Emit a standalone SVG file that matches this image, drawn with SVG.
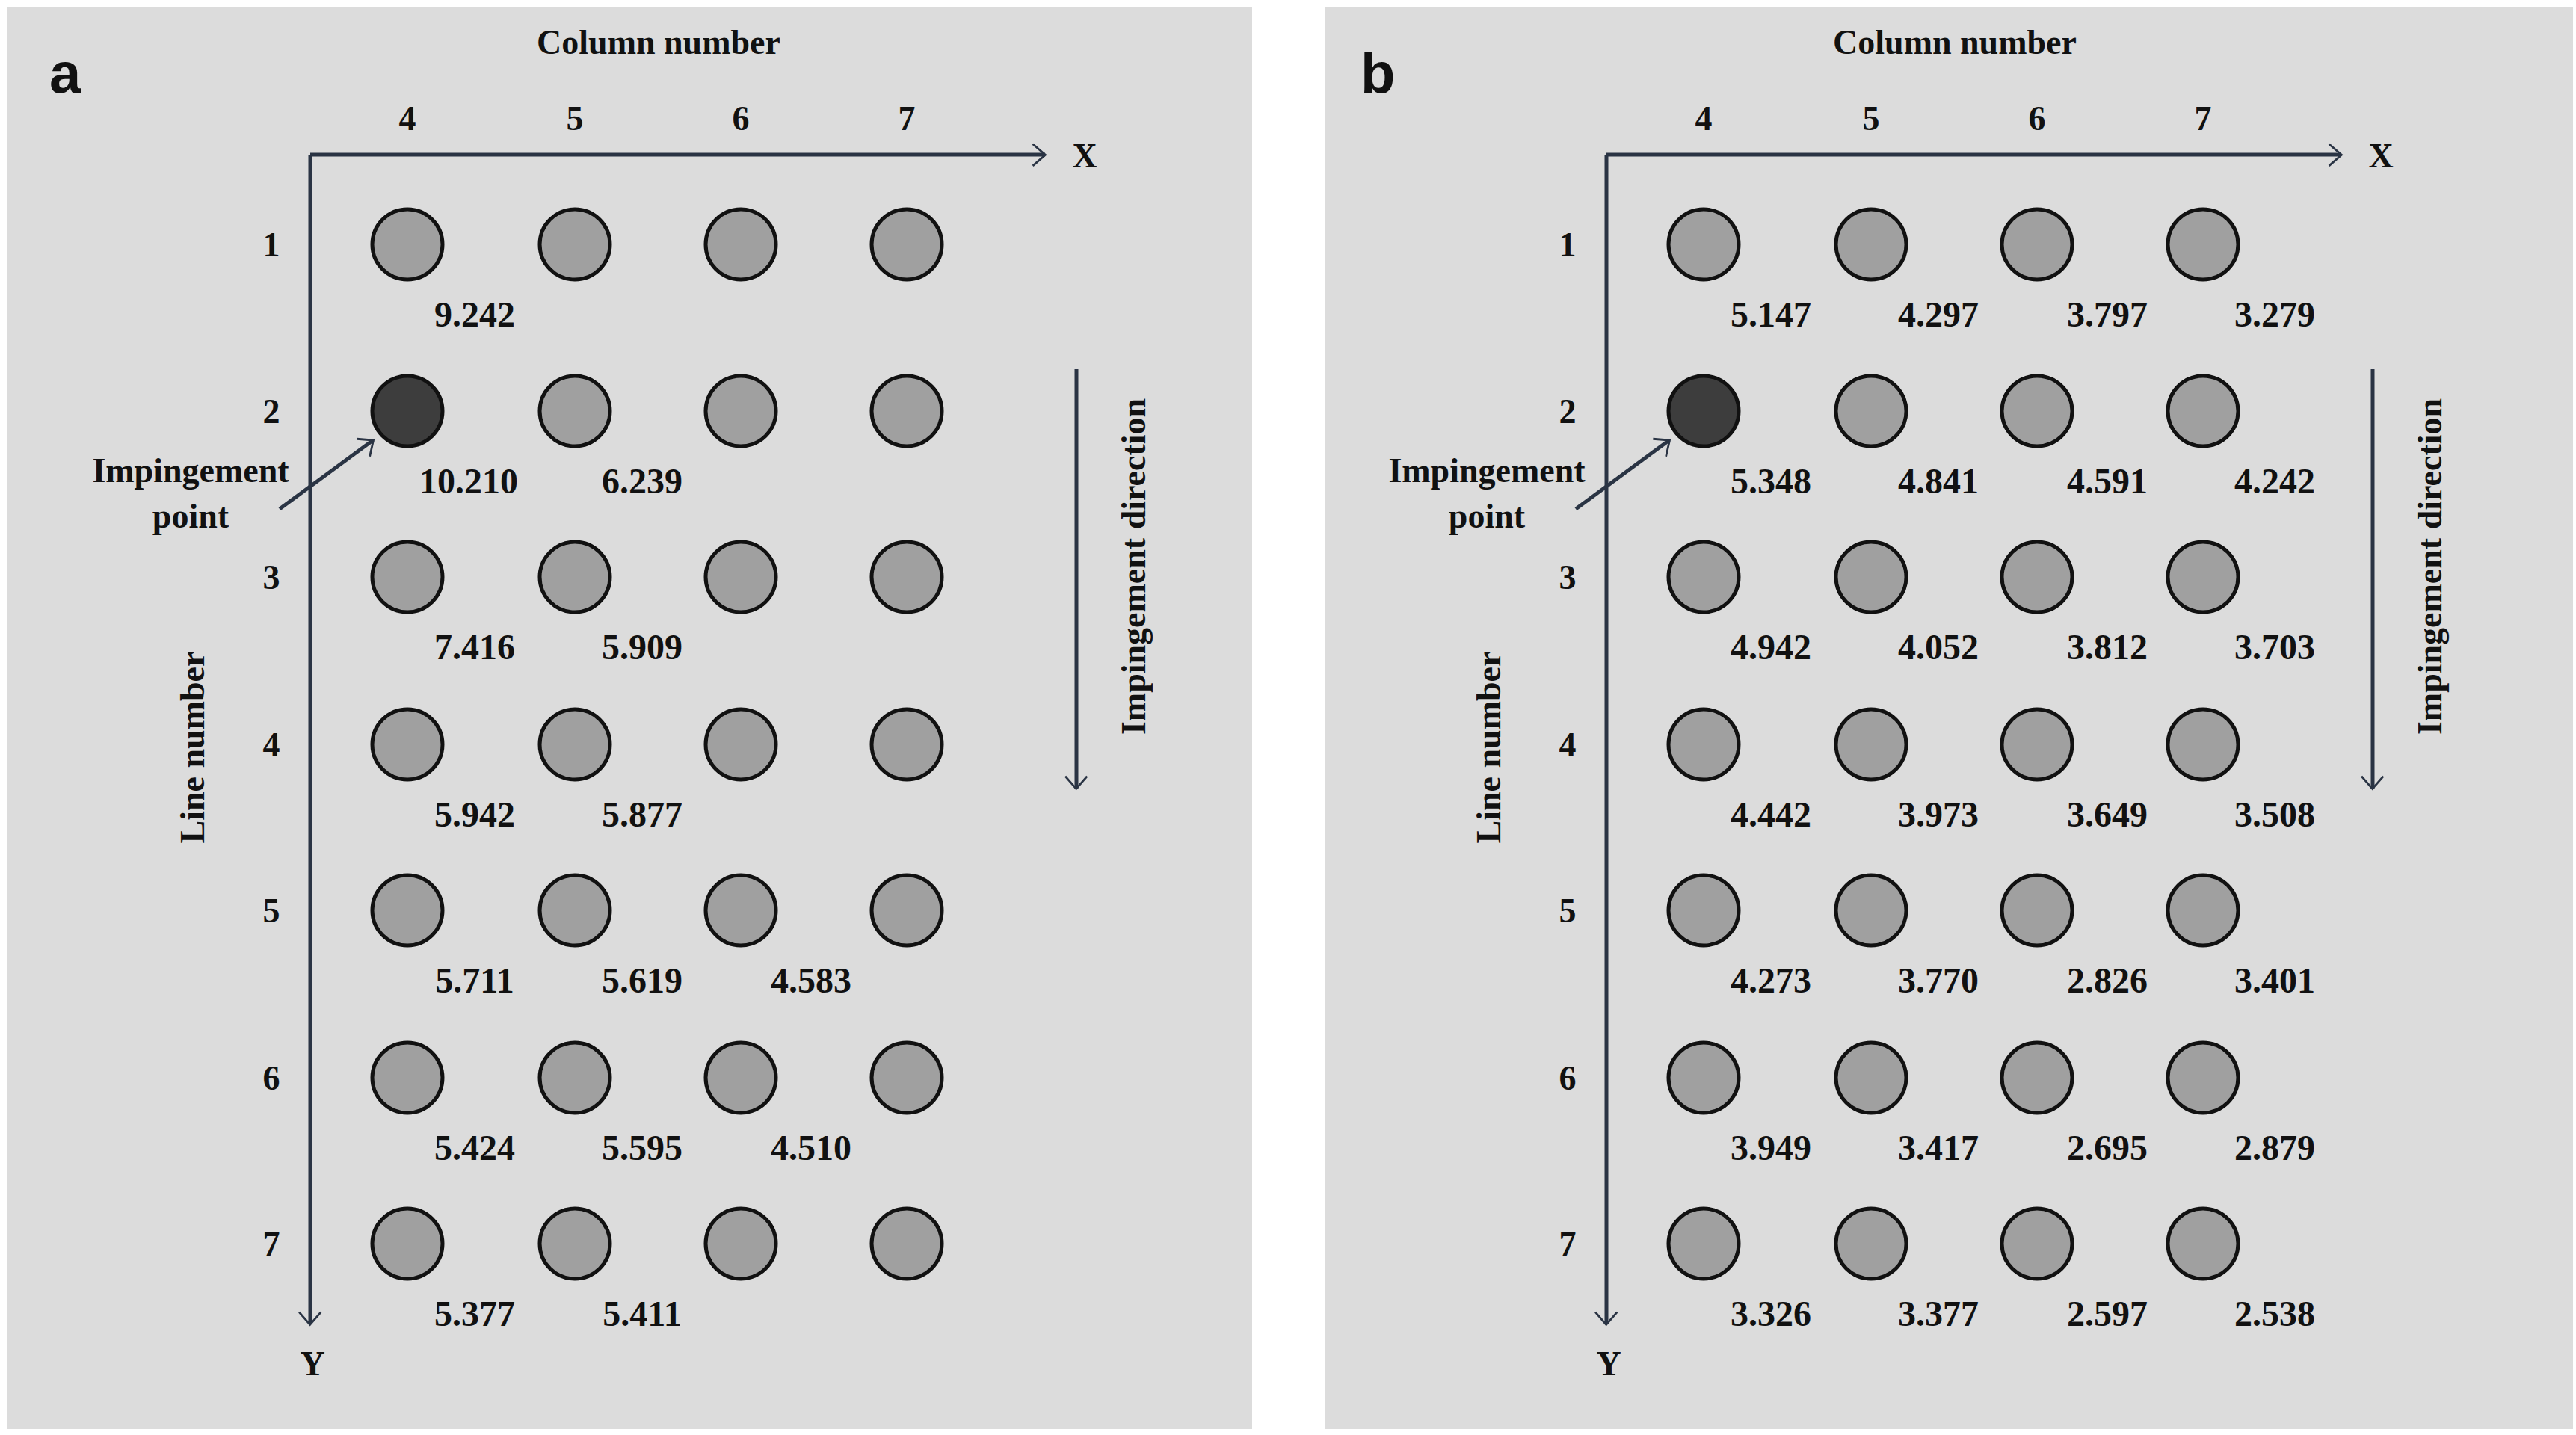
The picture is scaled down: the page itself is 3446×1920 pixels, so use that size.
<svg xmlns="http://www.w3.org/2000/svg" width="3446" height="1920" viewBox="0 0 3446 1920">
<defs>
<style>
.bg{fill:#dcdcdc}
.t{font-family:"Liberation Serif",serif;font-weight:bold;font-size:46px;fill:#111;text-anchor:middle}
.v{font-family:"Liberation Serif",serif;font-weight:bold;font-size:48px;fill:#111;text-anchor:middle}
.lab{font-family:"Liberation Sans",sans-serif;font-weight:bold;font-size:76px;fill:#111}
.ax{stroke:#2a3444;stroke-width:5;fill:none}
.c{fill:#a0a0a0;stroke:#111;stroke-width:5}
.d{fill:#3d3d3d;stroke:#111;stroke-width:5}
</style>
<marker id="ah" viewBox="0 0 10 10" refX="9" refY="5" markerWidth="7" markerHeight="7" orient="auto" markerUnits="userSpaceOnUse" style="overflow:visible">
<path d="M-6,-8 L9,5 L-6,18" transform="scale(1.6) translate(-3,-1.6)" fill="none" stroke="#2a3444" stroke-width="2.5"/>
</marker>
<g id="panel">
<g id="axes" class="ax">
<line x1="415" y1="207" x2="1398" y2="207" marker-end="url(#ah)"/>
<line x1="415" y1="207" x2="415" y2="1772" marker-end="url(#ah)"/>
<line x1="1440" y1="494" x2="1440" y2="1055" marker-end="url(#ah)"/>
<line x1="374" y1="681" x2="499" y2="589" marker-end="url(#ah)"/>
</g>
<text class="t" x="881" y="72">Column number</text>
<text class="t" x="545" y="174">4</text><text class="t" x="769" y="174">5</text><text class="t" x="991" y="174">6</text><text class="t" x="1213" y="174">7</text>
<text class="t" x="1451" y="224" font-size="54">X</text>
<text class="t" x="418" y="1840" font-size="54">Y</text>
<text class="t" x="363" y="343">1</text><text class="t" x="363" y="566">2</text><text class="t" x="363" y="788">3</text><text class="t" x="363" y="1012">4</text><text class="t" x="363" y="1234">5</text><text class="t" x="363" y="1458">6</text><text class="t" x="363" y="1680">7</text>
<text class="t" x="255" y="645">Impingement</text>
<text class="t" x="255" y="706">point</text>
<text class="t" transform="translate(273,1000) rotate(-90)">Line number</text>
<text class="t" transform="translate(1532,758) rotate(-90)">Impingement direction</text>
<g id="circles">
<circle class="c" cx="545" cy="327" r="47"/><circle class="c" cx="769" cy="327" r="47"/><circle class="c" cx="991" cy="327" r="47"/><circle class="c" cx="1213" cy="327" r="47"/>
<circle class="d" cx="545" cy="550" r="47"/><circle class="c" cx="769" cy="550" r="47"/><circle class="c" cx="991" cy="550" r="47"/><circle class="c" cx="1213" cy="550" r="47"/>
<circle class="c" cx="545" cy="772" r="47"/><circle class="c" cx="769" cy="772" r="47"/><circle class="c" cx="991" cy="772" r="47"/><circle class="c" cx="1213" cy="772" r="47"/>
<circle class="c" cx="545" cy="996" r="47"/><circle class="c" cx="769" cy="996" r="47"/><circle class="c" cx="991" cy="996" r="47"/><circle class="c" cx="1213" cy="996" r="47"/>
<circle class="c" cx="545" cy="1218" r="47"/><circle class="c" cx="769" cy="1218" r="47"/><circle class="c" cx="991" cy="1218" r="47"/><circle class="c" cx="1213" cy="1218" r="47"/>
<circle class="c" cx="545" cy="1442" r="47"/><circle class="c" cx="769" cy="1442" r="47"/><circle class="c" cx="991" cy="1442" r="47"/><circle class="c" cx="1213" cy="1442" r="47"/>
<circle class="c" cx="545" cy="1664" r="47"/><circle class="c" cx="769" cy="1664" r="47"/><circle class="c" cx="991" cy="1664" r="47"/><circle class="c" cx="1213" cy="1664" r="47"/>
</g>
</g>
</defs>
<rect x="0" y="0" width="3446" height="1920" fill="#fff"/>
<g id="panel-a">
<rect class="bg" x="9" y="9" width="1666" height="1903"/>
<text class="lab" x="66" y="124">a</text>
<use href="#panel"/>
<g id="values-a">
<text class="v" x="635" y="437">9.242</text>
<text class="v" x="627" y="660">10.210</text><text class="v" x="859" y="660">6.239</text>
<text class="v" x="635" y="882">7.416</text><text class="v" x="859" y="882">5.909</text>
<text class="v" x="635" y="1106">5.942</text><text class="v" x="859" y="1106">5.877</text>
<text class="v" x="635" y="1328">5.711</text><text class="v" x="859" y="1328">5.619</text><text class="v" x="1085" y="1328">4.583</text>
<text class="v" x="635" y="1552">5.424</text><text class="v" x="859" y="1552">5.595</text><text class="v" x="1085" y="1552">4.510</text>
<text class="v" x="635" y="1774">5.377</text><text class="v" x="859" y="1774">5.411</text>
</g>
</g>
<g id="panel-b">
<rect class="bg" x="1772" y="9" width="1670" height="1903"/>
<text class="lab" x="1820" y="124">b</text>
<use href="#panel" x="1734"/>
<g id="values-b" transform="translate(1734,0)">
<text class="v" x="635" y="437">5.147</text><text class="v" x="859" y="437">4.297</text><text class="v" x="1085" y="437">3.797</text><text class="v" x="1309" y="437">3.279</text>
<text class="v" x="635" y="660">5.348</text><text class="v" x="859" y="660">4.841</text><text class="v" x="1085" y="660">4.591</text><text class="v" x="1309" y="660">4.242</text>
<text class="v" x="635" y="882">4.942</text><text class="v" x="859" y="882">4.052</text><text class="v" x="1085" y="882">3.812</text><text class="v" x="1309" y="882">3.703</text>
<text class="v" x="635" y="1106">4.442</text><text class="v" x="859" y="1106">3.973</text><text class="v" x="1085" y="1106">3.649</text><text class="v" x="1309" y="1106">3.508</text>
<text class="v" x="635" y="1328">4.273</text><text class="v" x="859" y="1328">3.770</text><text class="v" x="1085" y="1328">2.826</text><text class="v" x="1309" y="1328">3.401</text>
<text class="v" x="635" y="1552">3.949</text><text class="v" x="859" y="1552">3.417</text><text class="v" x="1085" y="1552">2.695</text><text class="v" x="1309" y="1552">2.879</text>
<text class="v" x="635" y="1774">3.326</text><text class="v" x="859" y="1774">3.377</text><text class="v" x="1085" y="1774">2.597</text><text class="v" x="1309" y="1774">2.538</text>
</g>
</g>
</svg>
